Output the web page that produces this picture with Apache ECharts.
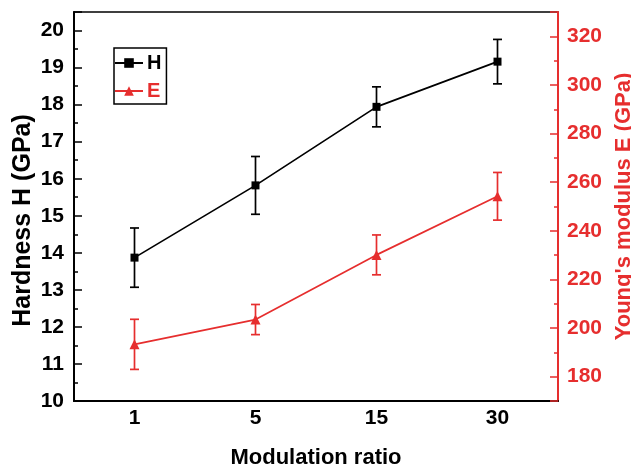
<!DOCTYPE html>
<html><head><meta charset="utf-8">
<script src="https://cdn.jsdelivr.net/npm/echarts@6/dist/echarts.min.js"></script>
<style>html,body{margin:0;padding:0;background:#fff}#c{width:631px;height:470px}</style>
</head><body><div id="c"></div>
<script>
const categories = ['1', '5', '15', '30'];
const hardness = [13.87, 15.82, 17.94, 19.16];
const hardnessErr = [0.80, 0.78, 0.54, 0.60];
const modulus = [193.3, 203.5, 230.1, 254.2];
const modulusErr = [10.3, 6.2, 8.2, 9.8];

const RED = '#e62e2e';
const FONT = '"Liberation Sans", Arial, sans-serif';

function errData(vals, errs) {
  return vals.map((v, i) => [i, v - errs[i], v + errs[i]]);
}
function errRender(color) {
  return function (params, api) {
    const x = api.value(0);
    const lo = api.coord([x, api.value(1)]);
    const hi = api.coord([x, api.value(2)]);
    const w = 4.5;
    const st = { stroke: color, lineWidth: 1.7 };
    return {
      type: 'group',
      children: [
        { type: 'line', shape: { x1: lo[0], y1: lo[1], x2: hi[0], y2: hi[1] }, style: st },
        { type: 'line', shape: { x1: lo[0] - w, y1: lo[1], x2: lo[0] + w, y2: lo[1] }, style: st },
        { type: 'line', shape: { x1: hi[0] - w, y1: hi[1], x2: hi[0] + w, y2: hi[1] }, style: st }
      ]
    };
  };
}

const chart = echarts.init(document.getElementById('c'), null, { renderer: 'canvas' });
chart.setOption({
  animation: false,
  backgroundColor: '#fff',
  textStyle: { fontFamily: FONT },
  grid: { left: 74, right: 73, top: 12, bottom: 69, outerBoundsMode: 'none', containLabel: false,
    show: true, borderColor: '#000', borderWidth: 1.5, backgroundColor: 'transparent' },
  legend: {
    left: 114, top: 48, orient: 'vertical',
    borderColor: '#000', borderWidth: 1.5,
    padding: [5, 5, 3, 0],
    itemWidth: 28, itemHeight: 12, itemGap: 8,
    textStyle: { fontSize: 20, fontWeight: 'bold', fontFamily: FONT, lineHeight: 20, padding: [0, 0, 0, -1] },
    data: [
      { name: 'H', textStyle: { color: '#000' } },
      { name: 'E', textStyle: { color: RED } }
    ]
  },
  xAxis: [
    {
      type: 'category', data: categories, boundaryGap: true,
      name: 'Modulation ratio', nameLocation: 'middle', nameGap: 46,
      nameTextStyle: { fontSize: 22, fontWeight: 'bold', color: '#000', fontFamily: FONT },
      axisLine: { lineStyle: { color: '#000', width: 2 } },
      axisTick: { alignWithLabel: true, inside: true, length: 8, lineStyle: { color: '#000', width: 1.5 } },
      axisLabel: { fontSize: 21, fontWeight: 'bold', color: '#000', margin: 7, fontFamily: FONT },
      splitLine: { show: false }
    },
    {
      type: 'category', data: categories, boundaryGap: true, position: 'bottom',
      axisLine: { show: false },
      axisTick: { inside: true, length: 4, lineStyle: { color: '#000', width: 1.5 } },
      axisLabel: { show: false },
      splitLine: { show: false }
    }
  ],
  yAxis: [
    {
      type: 'value', min: 10, max: 20.5, interval: 1,
      name: 'Hardness H (GPa)', nameLocation: 'middle', nameGap: 38, nameMoveOverlap: false,
      nameTextStyle: { fontSize: 25, fontWeight: 'bold', color: '#000', fontFamily: FONT, padding: [0, 28, 0, 0] },
      axisLine: { show: true, lineStyle: { color: '#000', width: 2 } },
      axisTick: { show: true, inside: true, length: 8, lineStyle: { color: '#000', width: 1.5 } },
      minorTick: { show: true, splitNumber: 2, length: 4, lineStyle: { color: '#000', width: 1.5 } },
      axisLabel: { fontSize: 21, fontWeight: 'bold', color: '#000', margin: 10, showMaxLabel: false, fontFamily: FONT,
        formatter: v => (Number.isInteger(v) ? String(v) : '') },
      splitLine: { show: false }
    },
    {
      type: 'value', min: 170, max: 330, splitNumber: 8, position: 'right',
      name: "Young's modulus E (GPa)", nameLocation: 'middle', nameGap: 52,
      nameTextStyle: { fontSize: 22, fontWeight: 'bold', color: RED, fontFamily: FONT },
      axisLine: { show: true, lineStyle: { color: RED, width: 2 } },
      axisTick: { show: true, inside: true, length: 8, lineStyle: { color: RED, width: 1.5 } },
      minorTick: { show: true, splitNumber: 2, length: 4, lineStyle: { color: RED, width: 1.5 } },
      axisLabel: { fontSize: 21, fontWeight: 'bold', color: RED, margin: 9, showMinLabel: false, showMaxLabel: false, fontFamily: FONT,
        formatter: v => (v % 20 === 0 ? String(v) : '') },
      splitLine: { show: false }
    }
  ],
  series: [
    {
      name: 'H', type: 'line', data: hardness, yAxisIndex: 0,
      symbol: 'rect', symbolSize: 8, color: '#000',
      lineStyle: { color: '#000', width: 1.7 }, itemStyle: { color: '#000' }, z: 5
    },
    {
      name: 'E', type: 'line', data: modulus, yAxisIndex: 1,
      symbol: 'triangle', symbolSize: 10, color: RED,
      lineStyle: { color: RED, width: 1.7 }, itemStyle: { color: RED }, z: 5
    },
    {
      name: 'H err', type: 'custom', yAxisIndex: 0, data: errData(hardness, hardnessErr),
      encode: { x: 0, y: [1, 2] }, renderItem: errRender('#000'), z: 4
    },
    {
      name: 'E err', type: 'custom', yAxisIndex: 1, data: errData(modulus, modulusErr),
      encode: { x: 0, y: [1, 2] }, renderItem: errRender(RED), z: 4
    }
  ]
});
</script>
</body></html>
